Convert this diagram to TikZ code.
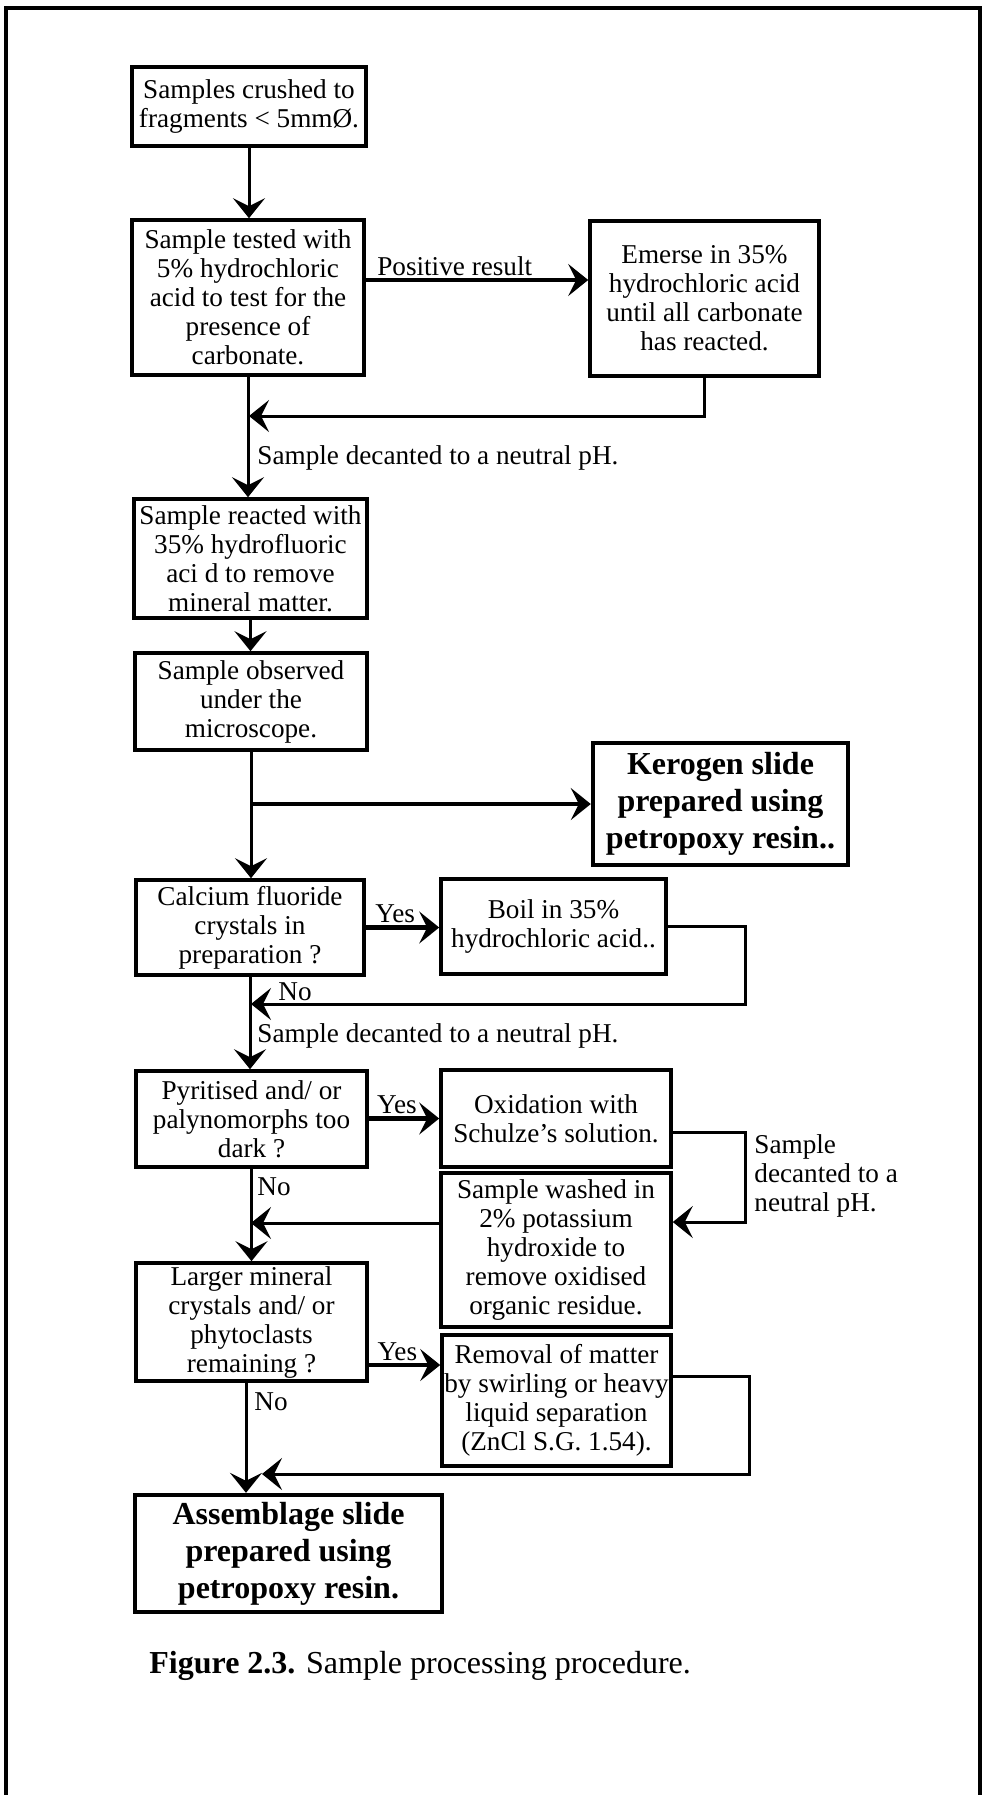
\documentclass[tikz,border=0pt]{standalone}
\usepackage{fontspec}
\setmainfont{Liberation Serif}
\usetikzlibrary{arrows.meta}

\begin{document}
\begin{tikzpicture}[x=0.5pt, y=-0.5pt,
    boxsize/.style 2 args={minimum width=#1*0.5pt, minimum height=#2*0.5pt},
    stepbox/.style={draw, line width=1.8pt, align=center, inner sep=0pt,
      font=\fontsize{13.6}{14.5}\selectfont},
    slidebox/.style={stepbox, line width=2.2pt, font=\fontsize{16}{18.5}\selectfont\bfseries},
    conn/.style={line width=1.5pt, -{Stealth[length=10pt, width=16pt, inset=4pt]}},
    thickconn/.style={conn, line width=2.4pt},
    lbl/.style={font=\fontsize{13.6}{14.5}\selectfont, inner sep=1pt}]
    \useasboundingbox (0,0) rectangle (984,1795);
    \draw[line width=1.6pt] (6,1800) -- (6,8) -- (980,8) -- (980,1800);

    \node[stepbox, boxsize={234}{79}] (crush) at (249,106.5) {Samples crushed to\\fragments < 5mmØ.};
    \node[stepbox, boxsize={232}{155}] (test) at (248,297.5) {Sample tested with\\5\% hydrochloric\\acid to test for the\\presence of\\carbonate.};
    \node[stepbox, boxsize={229}{155}] (emerse) at (704.5,298.5) {Emerse in 35\%\\hydrochloric acid\\until all carbonate\\has reacted.};
    \node[stepbox, boxsize={233}{119}] (hf) at (250.5,558.5) {Sample reacted with\\35\% hydrofluoric\\aci d to remove\\mineral matter.};
    \node[stepbox, boxsize={232}{97}] (observe) at (251,701.5) {Sample observed\\under the\\microscope.};
    \node[slidebox, boxsize={255}{122}] (kerogen) at (720.5,804) {Kerogen slide\\prepared using\\petropoxy resin..};
    \node[stepbox, boxsize={228}{95}] (calcium) at (250,927.5) {Calcium fluoride\\crystals in\\preparation ?};
    \node[stepbox, boxsize={225}{95}] (boil) at (553.5,926.5) {Boil in 35\%\\hydrochloric acid..};
    \node[stepbox, boxsize={231}{96}] (pyrite) at (251.5,1119) {Pyritised and/ or\\palynomorphs too\\dark ?};
    \node[stepbox, boxsize={230}{97}] (oxid) at (556,1118.5) {Oxidation with\\Schulze's solution.};
    \node[stepbox, boxsize={230}{154}] (wash) at (556,1250) {Sample washed in\\2\% potassium\\hydroxide to\\remove oxidised\\organic residue.};
    \node[stepbox, boxsize={231}{118}] (larger) at (251.5,1322) {Larger mineral\\crystals and/ or\\phytoclasts\\remaining ?};
    \node[stepbox, boxsize={229}{131}] (removal) at (556.5,1400.5) {Removal of matter\\by swirling or heavy\\liquid separation\\(ZnCl S.G. 1.54).};
    \node[slidebox, boxsize={307}{117}] (assem) at (288.5,1553.5) {Assemblage slide\\prepared using\\petropoxy resin.};

    \coordinate (rail) at (745,0);
    \coordinate (rail2) at (749,0);
    \coordinate (trunk) at (246,0);
    \coordinate (j1) at (249,416);
    \coordinate (j2) at (251,1004);
    \coordinate (j3) at (251,1223);
    \coordinate (j4) at (262,1474);

    \draw[conn] (crush.south) -- (crush.south |- test.north);
    \draw[thickconn] (test.east |- 0,280) -- (emerse.west |- 0,280) node[lbl, pos=0.4, above] (pos) {Positive result};
    \draw[conn] (emerse.south) |- (j1);
    \draw[conn] (test.south) -- (test.south |- hf.north);
    \node[lbl, anchor=west] (dec1) at (255,458) {Sample decanted to a neutral pH.};
    \draw[conn] (hf.south) -- (hf.south |- observe.north);
    \draw[conn] (observe.south) -- (observe.south |- calcium.north);
    \draw[thickconn] (observe.south |- kerogen.west) -- (kerogen.west);

    \draw[thickconn] (calcium.east) -- (calcium.east -| boil.west) node[lbl, pos=0.4, above] (yes1) {Yes};
    \draw[conn] (boil.east) -- (boil.east -| rail) |- (j2);
    \node[lbl, anchor=west] (no1) at (276,992) {No};
    \draw[conn] (calcium.south) -- (calcium.south |- pyrite.north);
    \node[lbl, anchor=west] (dec2) at (255,1036) {Sample decanted to a neutral pH.};

    \draw[thickconn] (pyrite.east |- oxid.west) -- (oxid.west) node[lbl, pos=0.4, above] (yes2) {Yes};
    \draw[conn] (oxid.east |- 0,1132) -- (rail |- 0,1132) |- (wash.east |- 0,1222);
    \node[lbl, anchor=west, align=left] (dec3) at (752,1176) {Sample\\decanted to a\\neutral pH.};
    \draw[conn] (wash.west |- j3) -- (j3);
    \draw[conn] (pyrite.south) -- (pyrite.south |- larger.north);
    \node[lbl, anchor=west] (no2) at (255,1187) {No};

    \draw[thickconn] (larger.east |- 0,1365) -- (removal.west |- 0,1365) node[lbl, pos=0.4, above] (yes3) {Yes};
    \draw[conn] (removal.east |- 0,1376) -- (rail2 |- 0,1376) |- (j4);
    \draw[conn] (larger.south -| trunk) -- (trunk |- assem.north);
    \node[lbl, anchor=west] (no3) at (252,1402) {No};

    \node[anchor=base west, inner sep=0pt, font=\fontsize{16}{18.5}\selectfont] (caption) at (149,1673) {\textbf{Figure 2.3.} Sample processing procedure.};
\end{tikzpicture}
\end{document}
